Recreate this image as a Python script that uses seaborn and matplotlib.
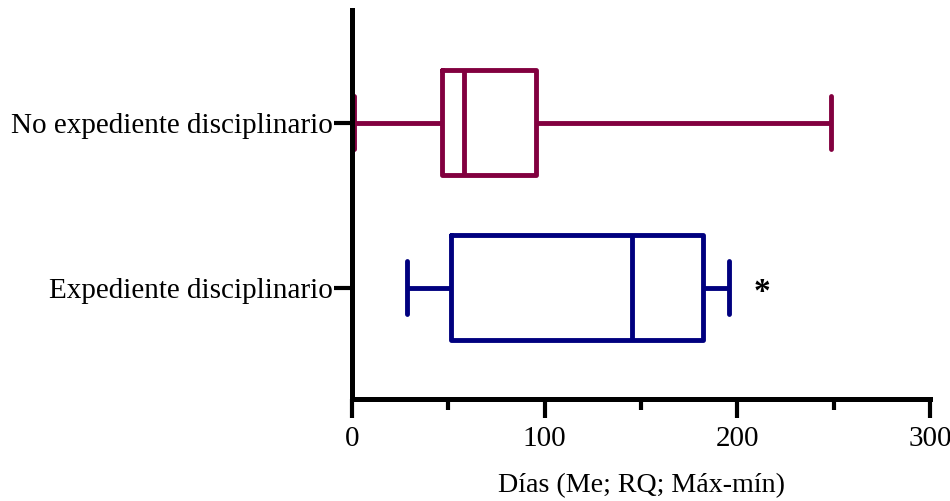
import numpy as np
import pandas as pd
import matplotlib
matplotlib.use("Agg")
import matplotlib.pyplot as plt
from matplotlib.ticker import MultipleLocator
import seaborn as sns

# five-number summaries (min, Q1, median, Q3, max)
categories = ['No expediente disciplinario', 'Expediente disciplinario']
no_expediente = [1, 46.5, 58, 95.5, 248.5]
expediente = [28.5, 51.5, 145.5, 182, 195.5]
colors = ['#82003f', '#00007f']

df = pd.DataFrame({
    'grupo': [categories[0]] * len(no_expediente) + [categories[1]] * len(expediente),
    'dias': no_expediente + expediente,
})

sns.set_style("white")
plt.rcParams['font.family'] = ['Liberation Serif', 'DejaVu Serif']
plt.rcParams['text.color'] = 'black'
plt.rcParams['axes.labelcolor'] = 'black'
plt.rcParams['xtick.color'] = 'black'
plt.rcParams['ytick.color'] = 'black'

fig = plt.figure(figsize=(9.5, 5.01), dpi=100)
ax = fig.add_axes([0.3705, 0.2044, 0.6085, 0.7756])

sns.boxplot(
    data=df,
    x='dias',
    y='grupo',
    hue='grupo',
    order=categories,
    hue_order=categories,
    palette=dict(zip(categories, colors)),
    fill=False,
    whis=(0, 100),
    width=0.637,
    linewidth=3.5,
    legend=False,
    ax=ax
)

ax.text(213, 1.03, '*', fontsize=24, fontweight='bold', ha='center', va='center',
        color='black')

ax.set_xlim(0, 300)
ax.set_ylim(1.674, -0.684)
ax.xaxis.set_major_locator(MultipleLocator(100))
ax.xaxis.set_minor_locator(MultipleLocator(50))

ax.set_xlabel("Días (Me; RQ; Máx-mín)", fontsize=20.2, labelpad=15)
ax.set_ylabel("")

for side in ['top', 'right']:
    ax.spines[side].set_visible(False)
for side in ['left', 'bottom']:
    ax.spines[side].set_linewidth(3.6)
    ax.spines[side].set_color('black')

ax.tick_params(axis='x', which='major', direction='out', length=14, width=3,
               labelsize=21, pad=6, bottom=True)
ax.tick_params(axis='x', which='minor', direction='out', length=8, width=3, bottom=True)
ax.tick_params(axis='y', which='major', direction='out', length=13, width=3,
               labelsize=21, pad=1, left=True)

fig.savefig("out.png", dpi=100)
